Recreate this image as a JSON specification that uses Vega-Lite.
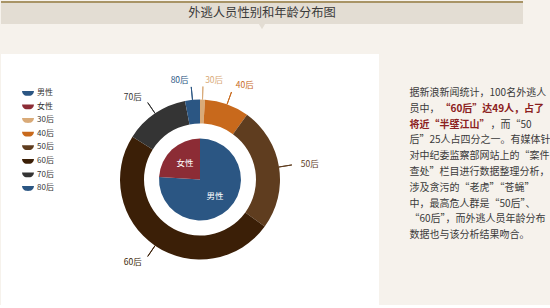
{
  "$schema": "https://vega.github.io/schema/vega-lite/v6.json",
  "background": "#f6f2ec",
  "padding": {"left": 0, "top": 1, "right": 0, "bottom": 0},
  "bounds": "flush",
  "spacing": 30,
  "config": {"font": "Noto Sans CJK SC", "view": {"stroke": null}},
  "datasets": {
    "title": [{"t": "外逃人员性别和年龄分布图"}],
    "gender": [
      {"k": "男性", "v": 76, "i": 1},
      {"k": "女性", "v": 24, "i": 2}
    ],
    "age": [
      {"k": "30后", "v": 1, "i": 1},
      {"k": "40后", "v": 9, "i": 2},
      {"k": "50后", "v": 25, "i": 3},
      {"k": "60后", "v": 49, "i": 4},
      {"k": "70后", "v": 13, "i": 5},
      {"k": "80后", "v": 3, "i": 6}
    ],
    "para": [
      {"line": 1, "part": "a", "s": "据新浪新闻统计，100名外逃人"},
      {"line": 2, "part": "a", "s": "员中，"},
      {"line": 2, "part": "b", "s": "“60后”达49人，占了"},
      {"line": 3, "part": "c", "s": "将近“半壁江山”"},
      {"line": 3, "part": "d", "s": "，而“50"},
      {"line": 4, "part": "a", "s": "后”25人占四分之一。有媒体针"},
      {"line": 5, "part": "a", "s": "对中纪委监察部网站上的“案件"},
      {"line": 6, "part": "a", "s": "查处”栏目进行数据整理分析，"},
      {"line": 7, "part": "a", "s": "涉及贪污的“老虎”“苍蝇”"},
      {"line": 8, "part": "a", "s": "中，最高危人群是“50后”、"},
      {"line": 9, "part": "a", "s": "“60后”，而外逃人员年龄分布"},
      {"line": 10, "part": "a", "s": "数据也与该分析结果吻合。"}
    ]
  },
  "vconcat": [
    {
      "width": 522,
      "height": 22,
      "view": {"fill": "#e3ddd3", "stroke": null},
      "data": {"name": "title"},
      "layer": [
        {"mark": {"type": "rule", "color": "#a89466", "strokeWidth": 2}, "encoding": {"y": {"value": 0}}},
        {"mark": {"type": "point", "shape": "triangle-down", "size": 60, "filled": true, "color": "#e3ddd3", "opacity": 1, "yOffset": 13}, "encoding": {}},
        {"mark": {"type": "text", "fontSize": 12.3, "color": "#3a3a3a"}, "encoding": {"text": {"field": "t"}}}
      ]
    },
    {
      "hconcat": [
        {
          "width": 378,
          "height": 251,
          "view": {"fill": "white", "stroke": null},
          "layer": [
            {
              "data": {"name": "age"},
              "mark": {"type": "arc", "outerRadius": 80, "innerRadius": 56, "xOffset": 10},
              "encoding": {
                "theta": {"field": "v", "type": "quantitative", "stack": true},
                "order": {"field": "i", "type": "quantitative"},
                "color": {
                  "field": "k", "type": "nominal",
                  "scale": {
                    "domain": ["男性", "女性", "30后", "40后", "50后", "60后", "70后", "80后"],
                    "range": ["#2b5683", "#8c2c35", "#d9aa78", "#c8691c", "#5f3d1f", "#3b1f07", "#343434", "#2b5683"]
                  },
                  "legend": {
                    "title": null, "orient": "none", "legendX": 21, "legendY": 85,
                    "symbolType": "M-1,-0.35L1,-0.35C0.9,0.35 0.5,0.45 0,0.45C-0.5,0.45 -0.9,0.35 -1,-0.35Z",
                    "symbolSize": 144, "symbolStrokeWidth": 0,
                    "labelFontSize": 8, "labelColor": "#333333", "labelOffset": 3,
                    "rowPadding": 3.6, "padding": 0
                  }
                }
              }
            },
            {
              "data": {"name": "gender"},
              "mark": {"type": "arc", "outerRadius": 41, "xOffset": 10},
              "encoding": {
                "theta": {"field": "v", "type": "quantitative", "stack": true},
                "order": {"field": "i", "type": "quantitative"},
                "color": {"field": "k", "type": "nominal"}
              }
            },
            {
              "data": {"name": "age"},
              "mark": {"type": "arc", "outerRadius": 93, "innerRadius": 80, "padAngle": 3.2, "filled": false, "strokeWidth": 1, "xOffset": 10},
              "encoding": {
                "theta": {"field": "v", "type": "quantitative", "stack": true},
                "order": {"field": "i", "type": "quantitative"},
                "color": {"field": "k", "type": "nominal", "legend": null}
              }
            },
            {
              "data": {"name": "age"},
              "mark": {"type": "text", "radius": 100, "align": "left", "dx": 2, "fontSize": 8.5, "xOffset": 10},
              "encoding": {
                "theta": {"field": "v", "type": "quantitative", "stack": true},
                "order": {"field": "i", "type": "quantitative"},
                "color": {"field": "k", "type": "nominal", "legend": null},
                "text": {"condition": {"test": {"field": "k", "oneOf": ["30后", "40后", "50后"]}, "field": "k"}, "value": ""}
              }
            },
            {
              "data": {"name": "age"},
              "mark": {"type": "text", "radius": 100, "align": "right", "dx": -2, "fontSize": 8.5, "xOffset": 10},
              "encoding": {
                "theta": {"field": "v", "type": "quantitative", "stack": true},
                "order": {"field": "i", "type": "quantitative"},
                "color": {"field": "k", "type": "nominal", "legend": null},
                "text": {"condition": {"test": {"field": "k", "oneOf": ["60后", "70后", "80后"]}, "field": "k"}, "value": ""}
              }
            },
            {
              "data": {"name": "gender"},
              "mark": {"type": "text", "radius": 22, "fontSize": 8.5, "color": "white", "xOffset": 10},
              "encoding": {
                "theta": {"field": "v", "type": "quantitative", "stack": true},
                "order": {"field": "i", "type": "quantitative"},
                "text": {"field": "k"}
              }
            }
          ]
        },
        {
          "width": 1,
          "height": 251,
          "data": {"name": "para"},
          "encoding": {
            "y": {"field": "line", "type": "ordinal", "axis": null,
                  "scale": {"type": "point", "domain": [1, 2, 3, 4, 5, 6, 7, 8, 9, 10], "range": [31, 189]}}
          },
          "layer": [
            {
              "transform": [{"filter": {"field": "part", "equal": "a"}}],
              "mark": {"type": "text", "align": "left", "baseline": "middle", "fontSize": 10, "color": "#3a3a3a"},
              "encoding": {"text": {"field": "s"}}
            },
            {
              "transform": [{"filter": {"field": "part", "equal": "b"}}],
              "mark": {"type": "text", "align": "left", "baseline": "middle", "fontSize": 10, "fontWeight": "bold", "color": "#8b2020", "dx": 31},
              "encoding": {"text": {"field": "s"}}
            },
            {
              "transform": [{"filter": {"field": "part", "equal": "c"}}],
              "mark": {"type": "text", "align": "left", "baseline": "middle", "fontSize": 10, "fontWeight": "bold", "color": "#8b2020"},
              "encoding": {"text": {"field": "s"}}
            },
            {
              "transform": [{"filter": {"field": "part", "equal": "d"}}],
              "mark": {"type": "text", "align": "left", "baseline": "middle", "fontSize": 10, "color": "#3a3a3a", "dx": 81},
              "encoding": {"text": {"field": "s"}}
            }
          ]
        }
      ],
      "spacing": 30,
      "bounds": "flush"
    }
  ]
}
